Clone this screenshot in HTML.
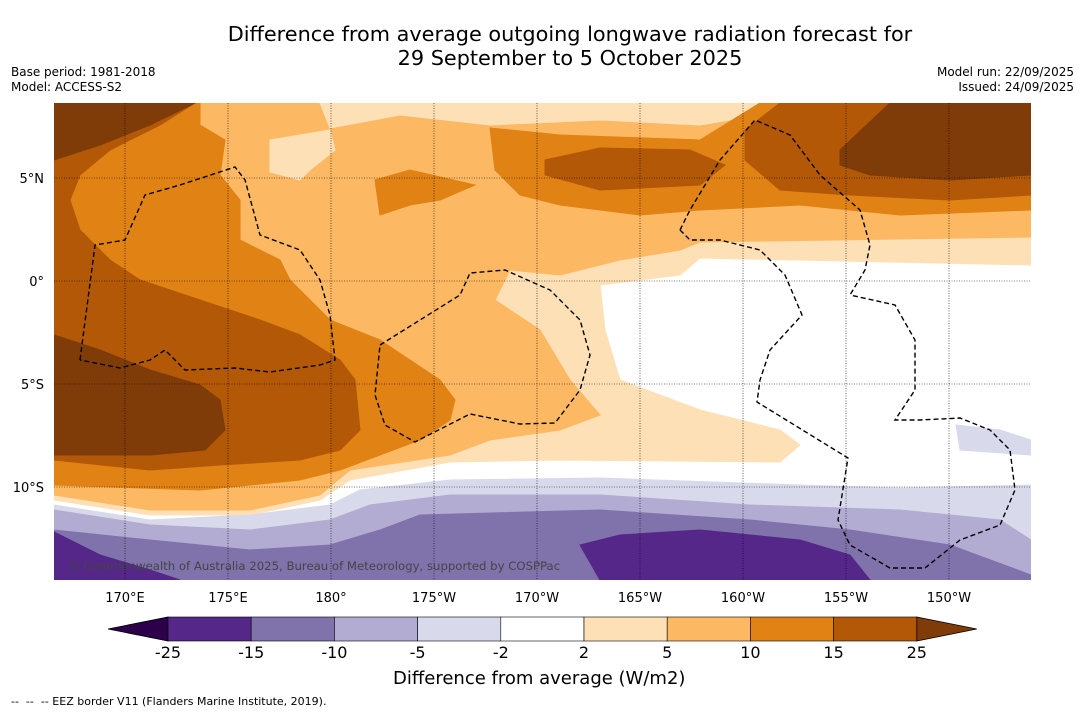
<!DOCTYPE html>
<html><head><meta charset="utf-8"><style>
body{margin:0;background:#fff;font-family:"DejaVu Sans","Liberation Sans",sans-serif;}
#wrap{position:relative;width:1085px;height:713px;overflow:hidden;background:#fff}
.t{position:absolute;white-space:nowrap;color:#000}
svg text{font-family:"DejaVu Sans","Liberation Sans",sans-serif;}
</style></head><body>
<div id="wrap">
<div class="t" style="left:0;width:1140px;text-align:center;top:22px;font-size:20.8px;line-height:24px">Difference from average outgoing longwave radiation forecast for<br>29 September to 5 October 2025</div>
<div class="t" style="left:11px;top:65px;font-size:12px;line-height:15px">Base period: 1981-2018<br>Model: ACCESS-S2</div>
<div class="t" style="right:11px;top:65px;font-size:12px;line-height:15px;text-align:right">Model run: 22/09/2025<br>Issued: 24/09/2025</div>
<svg id="map" width="1085" height="713" style="position:absolute;left:0;top:0">
<defs><clipPath id="mc"><rect x="54" y="103" width="977" height="477"/></clipPath></defs>
<g clip-path="url(#mc)" id="fills"></g>
<g id="grid"></g>
<g id="eez" clip-path="url(#mc)"></g>
<g id="axes"></g>
<g id="cbar"></g>
</svg>
<div class="t" style="left:68px;top:559px;font-size:11.7px;color:#444">© Commonwealth of Australia 2025, Bureau of Meteorology, supported by COSPPac</div>
<div class="t" style="left:393px;top:668px;font-size:18px">Difference from average (W/m2)</div>
<div class="t" style="left:11px;top:695px;font-size:11px">-- &nbsp;-- &nbsp;-- EEZ border V11 (Flanders Marine Institute, 2019).</div>
</div>
<script>
const lonTicks=["170°E","175°E","180°","175°W","170°W","165°W","160°W","155°W","150°W"];
const lonVals=[170,175,180,185,190,195,200,205,210];
const latTicks=["5°N","0°","5°S","10°S"];
const latVals=[5,0,-5,-10];
const levels=["-25","-15","-10","-5","-2","2","5","10","15","25"];
const levelColors=["#542788","#8073ac","#b2abd2","#d8daeb","#ffffff","#fee0b6","#fdb863","#e08214","#b35806"];
const lowColor="#2d004b", highColor="#7f3b08";
const NS="http://www.w3.org/2000/svg";
const xLon=l=>125+(l-170)*20.6;
const yLat=l=>281-l*20.6;
function mk(tag,attrs,parent){const e=document.createElementNS(NS,tag);for(const k in attrs)e.setAttribute(k,attrs[k]);parent.appendChild(e);return e;}
const fills=document.getElementById('fills');
const shapes=[
["#ffffff","54,103 1031,103 1031,580 54,580"],
["#fee0b6","54,103 1031,103 1031,265 700,258 680,275 600,285 605,330 620,380 700,410 780,430 800,445 780,462 560,460 450,462 350,480 320,500 250,515 150,515 54,500"],
["#ffffff","570,103 690,103 680,108 620,110 575,107"],
["#fdb863","54,103 1031,103 1031,237 700,242 680,250 620,260 560,275 510,270 495,300 540,330 570,380 600,415 560,430 490,440 450,455 350,470 320,495 250,510 150,510 54,495"],
["#fee0b6","320,103 760,103 760,115 700,125 600,120 490,125 400,115 330,128"],
["#fee0b6","270,140 330,130 335,150 310,170 300,180 270,172"],
["#e08214","54,103 200,103 200,125 225,140 220,175 240,200 240,240 280,260 290,280 330,320 380,340 410,360 440,380 455,400 450,420 420,440 380,455 340,470 300,480 200,490 54,485"],
["#e08214","375,180 410,170 475,185 440,200 410,205 380,215"],
["#e08214","490,128 560,135 700,140 760,103 1031,103 1031,210 900,215 800,205 700,210 640,215 560,205 520,195 495,170"],
["#b35806","54,103 195,103 160,125 110,150 80,175 70,200 80,230 110,260 140,280 200,300 260,320 300,335 340,360 355,380 360,430 340,450 300,460 220,465 150,470 54,460"],
["#7f3b08","54,103 195,103 150,125 100,145 54,160"],
["#7f3b08","54,335 100,350 150,370 200,385 220,400 225,430 205,450 150,455 54,455"],
["#b35806","545,160 600,148 690,150 725,165 700,185 600,190 545,175"],
["#b35806","745,130 780,103 1031,103 1031,195 950,200 850,195 780,190 745,160"],
["#7f3b08","840,150 890,103 1031,103 1031,117 1031,175 950,180 870,175 840,165"],
["#d8daeb","54,505 150,520 250,515 330,505 360,490 450,480 600,478 800,485 900,488 1031,485 1031,580 54,580"],
["#d8daeb","956,425 1000,430 1031,440 1031,455 960,450"],
["#b2abd2","54,510 150,525 250,530 330,520 370,505 450,495 600,495 750,505 900,510 1000,520 1031,540 1031,580 54,580"],
["#8073ac","54,530 150,540 250,550 330,545 380,530 420,515 600,510 750,520 850,530 950,545 1031,575 1031,580 54,580"],
["#542788","54,532 100,555 150,570 180,580 54,580"],
["#542788","580,545 620,535 700,530 800,540 850,555 870,580 600,580"]
];
shapes.forEach(s=>{const p=mk('polygon',{points:s[1],fill:s[0],stroke:s[0],'stroke-width':1},fills);

});
const grid=document.getElementById('grid'),axes=document.getElementById('axes');
lonVals.forEach((v,i)=>{const x=xLon(v);
const l=mk('line',{x1:x,x2:x,y1:103,y2:580,stroke:'#000','stroke-width':0.6,'stroke-dasharray':'1,1.5'},grid);


const t=mk('text',{x:x,y:602,'text-anchor':'middle','font-size':13},axes);t.textContent=lonTicks[i];

});
latVals.forEach((v,i)=>{const y=yLat(v);
const l=mk('line',{x1:54,x2:1031,y1:y,y2:y,stroke:'#000','stroke-width':0.6,'stroke-dasharray':'1,1.5'},grid);


const t=mk('text',{x:44,y:y+5,'text-anchor':'end','font-size':13},axes);t.textContent=latTicks[i];

});
const eez=document.getElementById('eez');
["80,360 95,245 125,240 145,195 180,185 235,167 245,180 260,235 300,250 320,280 330,315 335,360 320,365 270,372 235,368 185,370 165,350 150,360 120,368 80,360",
"380,345 460,295 470,273 505,270 550,290 580,320 590,355 580,390 555,423 520,424 470,414 415,442 385,425 375,395 380,345",
"680,230 690,210 720,160 755,120 790,135 820,175 860,210 870,245 865,270 850,295",
"680,230 690,240 720,240 760,250 785,275 802,315 770,350 760,380 757,402 848,458 838,520 850,545 890,568 925,568 960,540 1000,525 1015,490 1010,450 990,430 960,418 920,420 895,420 915,390 915,340 895,305 850,295"
].forEach(pts=>{const p=mk('polyline',{points:pts,fill:'none',stroke:'#000','stroke-width':1.4,'stroke-dasharray':'5,3'},eez);

});
const cb=document.getElementById('cbar');
const cx0=168,cw=83.2,cy=617,ch=24;
const lt=mk('polygon',{points:`108,${cy+ch/2} ${cx0},${cy} ${cx0},${cy+ch}`,fill:lowColor,stroke:'#000','stroke-width':0.8},cb);


levelColors.forEach((c,i)=>{const r=mk('rect',{x:cx0+i*cw,y:cy,width:cw,height:ch,fill:c,stroke:'#000','stroke-width':0.6},cb);

});
const xe=cx0+levelColors.length*cw;
const ht=mk('polygon',{points:`${xe},${cy} ${xe+60},${cy+ch/2} ${xe},${cy+ch}`,fill:highColor,stroke:'#000','stroke-width':0.8},cb);


levels.forEach((s,i)=>{const t=mk('text',{x:cx0+i*cw,y:658,'text-anchor':'middle','font-size':16},cb);t.textContent=s;

});
</script>
</body></html>
